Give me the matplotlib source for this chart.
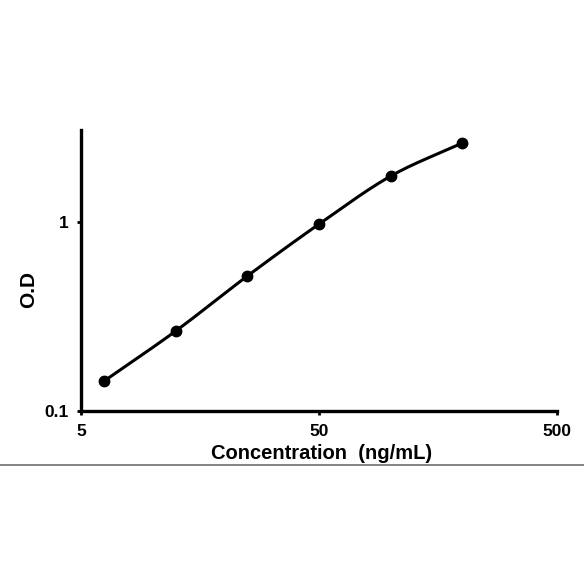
import numpy as np
import matplotlib
matplotlib.use("Agg")
import matplotlib.pyplot as plt
from matplotlib.lines import Line2D

# standard curve values
conc = [6.25, 12.5, 25, 50, 100, 200]          # ng/mL
od = [0.144, 0.265, 0.518, 0.975, 1.75, 2.62]  # O.D

xticks = [5, 50, 500]
yticks = [0.1, 1]
xtick_labels = ["5", "50", "500"]
ytick_labels = ["0.1", "1"]


def smooth(xs, ys, n=30):
    # catmull-rom through the points, done in log space
    lx = np.log10(xs)
    ly = np.log10(ys)
    px = np.concatenate(([2 * lx[0] - lx[1]], lx, [2 * lx[-1] - lx[-2]]))
    py = np.concatenate(([2 * ly[0] - ly[1]], ly, [2 * ly[-1] - ly[-2]]))
    outx, outy = [], []
    t = np.linspace(0, 1, n)
    for i in range(1, len(px) - 2):
        for p, out in ((px, outx), (py, outy)):
            p0, p1, p2, p3 = p[i - 1], p[i], p[i + 1], p[i + 2]
            out.extend(0.5 * (2 * p1 + (-p0 + p2) * t
                              + (2 * p0 - 5 * p1 + 4 * p2 - p3) * t ** 2
                              + (-p0 + 3 * p1 - 3 * p2 + p3) * t ** 3))
    return 10 ** np.array(outx), 10 ** np.array(outy)


plt.rcParams['font.family'] = ['Liberation Sans', 'DejaVu Sans']
plt.rcParams['font.weight'] = 'bold'

W = 584.0
fig = plt.figure(figsize=(5.84, 5.84), dpi=100)
ax = fig.add_axes([81 / W, 1 - 411 / W, 476 / W, 281 / W])

sx, sy = smooth(conc, od)
ax.plot(sx, sy, color='black', lw=2.2, solid_capstyle='round')
ax.plot(conc, od, 'o', color='black', ms=7.5)

ax.set_xscale('log')
ax.set_yscale('log')
ax.set_xlim(5, 500)
ax.set_ylim(0.1, 3.07)
ax.set_xticks(xticks)
ax.set_xticklabels(xtick_labels)
ax.set_yticks(yticks)
ax.set_yticklabels(ytick_labels)
ax.minorticks_off()

for s in ['top', 'right']:
    ax.spines[s].set_visible(False)
for s in ['left', 'bottom']:
    ax.spines[s].set_linewidth(2.4)
ax.tick_params(length=3, width=2, labelsize=12.5, pad=6)
for lab in ax.get_xticklabels() + ax.get_yticklabels():
    lab.set_fontweight('bold')

ax.set_xlabel('Concentration  (ng/mL)', fontsize=14.5, fontweight='bold')
ax.xaxis.set_label_coords(321.5 / W, 1 - 459 / W, transform=fig.transFigure)
ax.xaxis.label.set_va('baseline')
ax.set_ylabel('O.D', fontsize=15, fontweight='bold')
ax.yaxis.set_label_coords(28.5 / W, 1 - 290 / W, transform=fig.transFigure)
ax.yaxis.label.set_va('center')

# thin grey rule under the chart
fig.add_artist(Line2D([0, 1], [1 - 465 / W, 1 - 465 / W],
                      transform=fig.transFigure, color='#707070', lw=1.2))

fig.savefig('out.png', dpi=100)
